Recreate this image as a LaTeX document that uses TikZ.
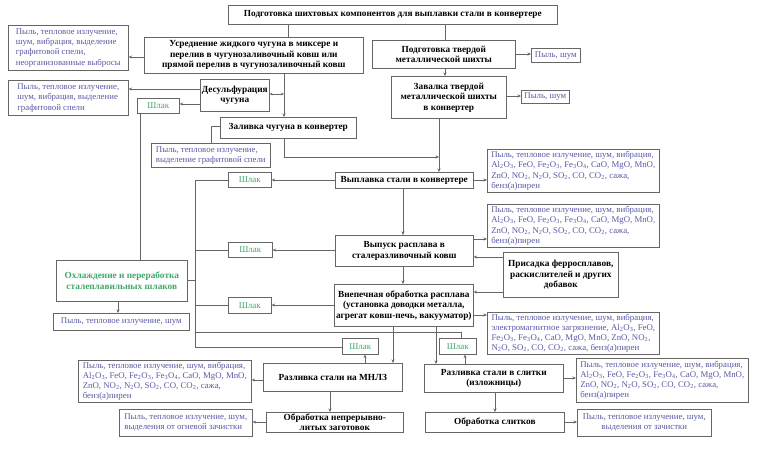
\documentclass[tikz,border=0pt]{standalone}
\usepackage{fontspec}
\setmainfont{Liberation Serif}
\usetikzlibrary{arrows.meta}
\definecolor{bcol}{HTML}{666666}
\definecolor{emcol}{HTML}{5A5AA6}
\definecolor{slcol}{HTML}{3FA86C}
\newcommand\sbs[1]{\textsubscript{#1}}
\begin{document}
\begin{tikzpicture}[x=1pt,y=-1pt,
 base/.style={draw=bcol, line width=0.6pt, anchor=north west, inner xsep=1.5pt, inner ysep=0pt},
 proc/.style={base, font=\fontsize{9.3}{10.5}\selectfont\bfseries, align=center},
 emis/.style={base, font=\fontsize{8.8}{10.3}\selectfont, text=emcol, align=left},
 emisc/.style={emis, align=center},
 slag/.style={base, font=\fontsize{9}{10}\selectfont, text=slcol, align=center},
 ln/.style={draw=bcol, line width=0.6pt},
 arr/.style={ln, -{Stealth[length=3.5pt,width=3pt]}},
 darr/.style={ln, {Stealth[length=3pt,width=2.5pt]}-{Stealth[length=3pt,width=2.5pt]}},
]
\fill[white] (0,0) rectangle (759,452);
\useasboundingbox (0,0) rectangle (759,452);

% process nodes
\node[proc, at={(228,5)}, minimum width=329pt, minimum height=19pt] (top) {Подготовка шихтовых компонентов для выплавки стали в конвертере};
\node[proc, at={(144,37)}, minimum width=219pt, minimum height=36pt] (mix) {Усреднение жидкого чугуна в миксере и\\перелив в чугунозаливочный ковш или\\прямой перелив в чугунозаливочный ковш};
\node[proc, at={(200,79)}, minimum width=69pt, minimum height=32pt] (desulf) {Десульфурация\\чугуна};
\node[proc, at={(220,117)}, minimum width=136pt, minimum height=21pt] (zaliv) {Заливка чугуна в конвертер};
\node[proc, at={(372,40)}, minimum width=143pt, minimum height=28pt] (podg) {Подготовка твердой\\металлической шихты};
\node[proc, at={(391,76)}, minimum width=115pt, minimum height=42pt] (zavalka) {Завалка твердой\\металлической шихты\\в конвертер};
\node[proc, at={(335,172)}, minimum width=138pt, minimum height=16pt] (vypl) {Выплавка стали в конвертере};
\node[proc, at={(335,235)}, minimum width=138pt, minimum height=31pt] (vypusk) {Выпуск расплава в\\сталеразливочный ковш};
\node[proc, at={(503,252)}, minimum width=115pt, minimum height=45pt] (prisadka) {Присадка ферросплавов,\\раскислителей и других\\добавок};
\node[proc, at={(334,284)}, minimum width=139pt, minimum height=42pt] (vnep) {Внепечная обработка расплава\\(установка доводки металла,\\агрегат ковш-печь, вакууматор)};
\node[proc, text=slcol, at={(56,260)}, minimum width=131pt, minimum height=41pt] (cool) {Охлаждение и переработка\\сталеплавильных шлаков};
\node[proc, at={(263,363)}, minimum width=139pt, minimum height=28pt] (mnlz) {Разливка стали на МНЛЗ};
\node[proc, at={(266,412)}, minimum width=137pt, minimum height=20pt] (obr1) {Обработка непрерывно-\\литых заготовок};
\node[proc, at={(424,364)}, minimum width=139pt, minimum height=28pt] (slitki) {Разливка стали в слитки\\(изложницы)};
\node[proc, at={(425,412)}, minimum width=139pt, minimum height=20pt] (obr2) {Обработка слитков};

% slag nodes
\node[slag, at={(137,98)}, minimum width=42pt, minimum height=15pt] (slag1) {Шлак};
\node[slag, at={(228,172)}, minimum width=43pt, minimum height=15pt] (slag2) {Шлак};
\node[slag, at={(228,242)}, minimum width=44pt, minimum height=15pt] (slag3) {Шлак};
\node[slag, at={(228,297)}, minimum width=43pt, minimum height=16pt] (slag4) {Шлак};
\node[slag, at={(342,338)}, minimum width=36pt, minimum height=16pt] (slag5) {Шлак};
\node[slag, at={(439,338)}, minimum width=37pt, minimum height=16pt] (slag6) {Шлак};

% emission nodes
\node[emis, at={(8,25)}, minimum width=120pt, minimum height=45pt] (em1) {Пыль, тепловое излучение,\\шум, вибрация, выделение\\графитовой спели,\\неорганизованные выбросы};
\node[emis, at={(8,80)}, minimum width=120pt, minimum height=35pt] (em2) {Пыль, тепловое излучение,\\шум, вибрация, выделение\\графитовой спели};
\node[emis, at={(151,143)}, minimum width=119pt, minimum height=24pt] (em3) {Пыль, тепловое излучение,\\выделение графитовой спели};
\node[emis, at={(531,48)}, minimum width=49pt, minimum height=14pt] (dust1) {Пыль, шум};
\node[emis, at={(521,90)}, minimum width=48pt, minimum height=13pt] (dust2) {Пыль, шум};
\node[emis, at={(487,149)}, minimum width=172pt, minimum height=43pt] (em4) {Пыль, тепловое излучение, шум, вибрация,\\Al\sbs{2}O\sbs{3}, FeO, Fe\sbs{2}O\sbs{3}, Fe\sbs{3}O\sbs{4}, CaO, MgO, MnO,\\ZnO, NO\sbs{2}, N\sbs{2}O, SO\sbs{2}, CO, CO\sbs{2}, сажа,\\бенз(а)пирен};
\node[emis, at={(487,204)}, minimum width=172pt, minimum height=43pt] (em5) {Пыль, тепловое излучение, шум, вибрация,\\Al\sbs{2}O\sbs{3}, FeO, Fe\sbs{2}O\sbs{3}, Fe\sbs{3}O\sbs{4}, CaO, MgO, MnO,\\ZnO, NO\sbs{2}, N\sbs{2}O, SO\sbs{2}, CO, CO\sbs{2}, сажа,\\бенз(а)пирен};
\node[emis, at={(487,312)}, minimum width=172pt, minimum height=42pt] (em6) {Пыль, тепловое излучение, шум, вибрация,\\электромагнитное загрязнение, Al\sbs{2}O\sbs{3}, FeO,\\Fe\sbs{2}O\sbs{3}, Fe\sbs{3}O\sbs{4}, CaO, MgO, MnO, ZnO, NO\sbs{2},\\N\sbs{2}O, SO\sbs{2}, CO, CO\sbs{2}, сажа, бенз(а)пирен};
\node[emisc, at={(53,313)}, minimum width=136pt, minimum height=17pt] (em7) {Пыль, тепловое излучение, шум};
\node[emis, at={(78,360)}, minimum width=173pt, minimum height=42pt] (em8) {Пыль, тепловое излучение, шум, вибрация,\\Al\sbs{2}O\sbs{3}, FeO, Fe\sbs{2}O\sbs{3}, Fe\sbs{3}O\sbs{4}, CaO, MgO, MnO,\\ZnO, NO\sbs{2}, N\sbs{2}O, SO\sbs{2}, CO, CO\sbs{2}, сажа,\\бенз(а)пирен};
\node[emis, at={(119,409)}, minimum width=133pt, minimum height=27pt] (em9) {Пыль, тепловое излучение, шум,\\выделения от огневой зачистки};
\node[emis, at={(576,358)}, minimum width=172pt, minimum height=44pt] (em10) {Пыль, тепловое излучение, шум, вибрация,\\Al\sbs{2}O\sbs{3}, FeO, Fe\sbs{2}O\sbs{3}, Fe\sbs{3}O\sbs{4}, CaO, MgO, MnO,\\ZnO, NO\sbs{2}, N\sbs{2}O, SO\sbs{2}, CO, CO\sbs{2}, сажа,\\бенз(а)пирен};
\node[emisc, at={(577,409)}, minimum width=134pt, minimum height=27pt] (em11) {Пыль, тепловое излучение, шум,\\выделения от зачистки};

% junction coordinates
\coordinate (dj) at (284,94);
\coordinate (j1) at (439,157);
\coordinate (t1) at (195,180);
\coordinate (t2) at (195,347);

% connectors
\draw[ln] (top.south -| 288,0) -- (mix.north -| 288,0);
\draw[ln] (top.south -| 445,0) -- (podg.north -| 445,0);
\draw[arr] (mix.west |- 0,57) -- (em1.east |- 0,57);
\draw[arr] (mix.south -| 284,0) -- (zaliv.north -| 284,0);
\draw[darr] (desulf.east |- dj) -- (dj);
\draw[arr] (desulf.west |- 0,89) -- (em2.east |- 0,89);
\draw[arr] (desulf.west |- 0,104) -- (slag1.east |- 0,104);
\draw[ln] (slag1.south -| 140,0) -- (cool.north -| 140,0);
\draw[ln] (zaliv.west |- 0,126) -| (em3.north -| 211,0);
\draw[arr] (zaliv.south -| 284,0) |- (j1);
\draw[arr] (podg.south -| 445,0) -- (zavalka.north -| 445,0);
\draw[arr] (podg.east |- 0,54) -- (dust1.west |- 0,54);
\draw[arr] (zavalka.east |- 0,96) -- (dust2.west |- 0,96);
\draw[arr] (zavalka.south -| 439,0) -- (vypl.north -| 439,0);
\draw[arr] (vypl.east |- 0,180) -- (em4.west |- 0,180);
\draw[arr] (vypl.west |- 0,180) -- (slag2.east |- 0,180);
\draw[ln] (slag2.west |- t1) -- (t1) -- (t2) -- (slag5.west |- t2);
\draw[arr] (vypl.south -| 403,0) -- (vypusk.north -| 403,0);
\draw[arr] (vypusk.west |- 0,250) -- (slag3.east |- 0,250);
\draw[ln] (slag3.west |- 0,250) -- (t1 |- 0,250);
\draw[arr] (vypusk.east |- 0,239) -- (em5.west |- 0,239);
\draw[arr] (prisadka.west |- 0,257) -- (vypusk.east |- 0,257);
\draw[arr] (prisadka.west |- 0,292) -- (vnep.east |- 0,292);
\draw[arr] (vypusk.south -| 403,0) -- (vnep.north -| 403,0);
\draw[arr] (vnep.west |- 0,305) -- (slag4.east |- 0,305);
\draw[ln] (slag4.west |- 0,305) -- (t1 |- 0,305);
\draw[arr] (vnep.east |- 0,315) -- (em6.west |- 0,315);
\draw[ln] (cool.east |- 0,280) -- (t1 |- 0,280);
\draw[arr] (cool.south -| 118,0) -- (em7.north -| 118,0);
\draw[ln] (t1 |- 0,332) -| (slag6.north -| 461,0);
\draw[arr] (vnep.south -| 393,0) -- (mnlz.north -| 393,0);
\draw[arr] (vnep.south -| 436,0) -- (slitki.north -| 436,0);
\draw[arr] (mnlz.north -| 365,0) -- (slag5.south -| 365,0);
\draw[arr] (slitki.north -| 465,0) -- (slag6.south -| 465,0);
\draw[arr] (mnlz.west |- 0,380) -- (em8.east |- 0,380);
\draw[arr] (mnlz.south -| 330,0) -- (obr1.north -| 330,0);
\draw[arr] (obr1.west |- 0,422) -- (em9.east |- 0,422);
\draw[arr] (slitki.east |- 0,378) -- (em10.west |- 0,378);
\draw[arr] (slitki.south -| 495,0) -- (obr2.north -| 495,0);
\draw[arr] (obr2.east |- 0,422) -- (em11.west |- 0,422);
\end{tikzpicture}
\end{document}
